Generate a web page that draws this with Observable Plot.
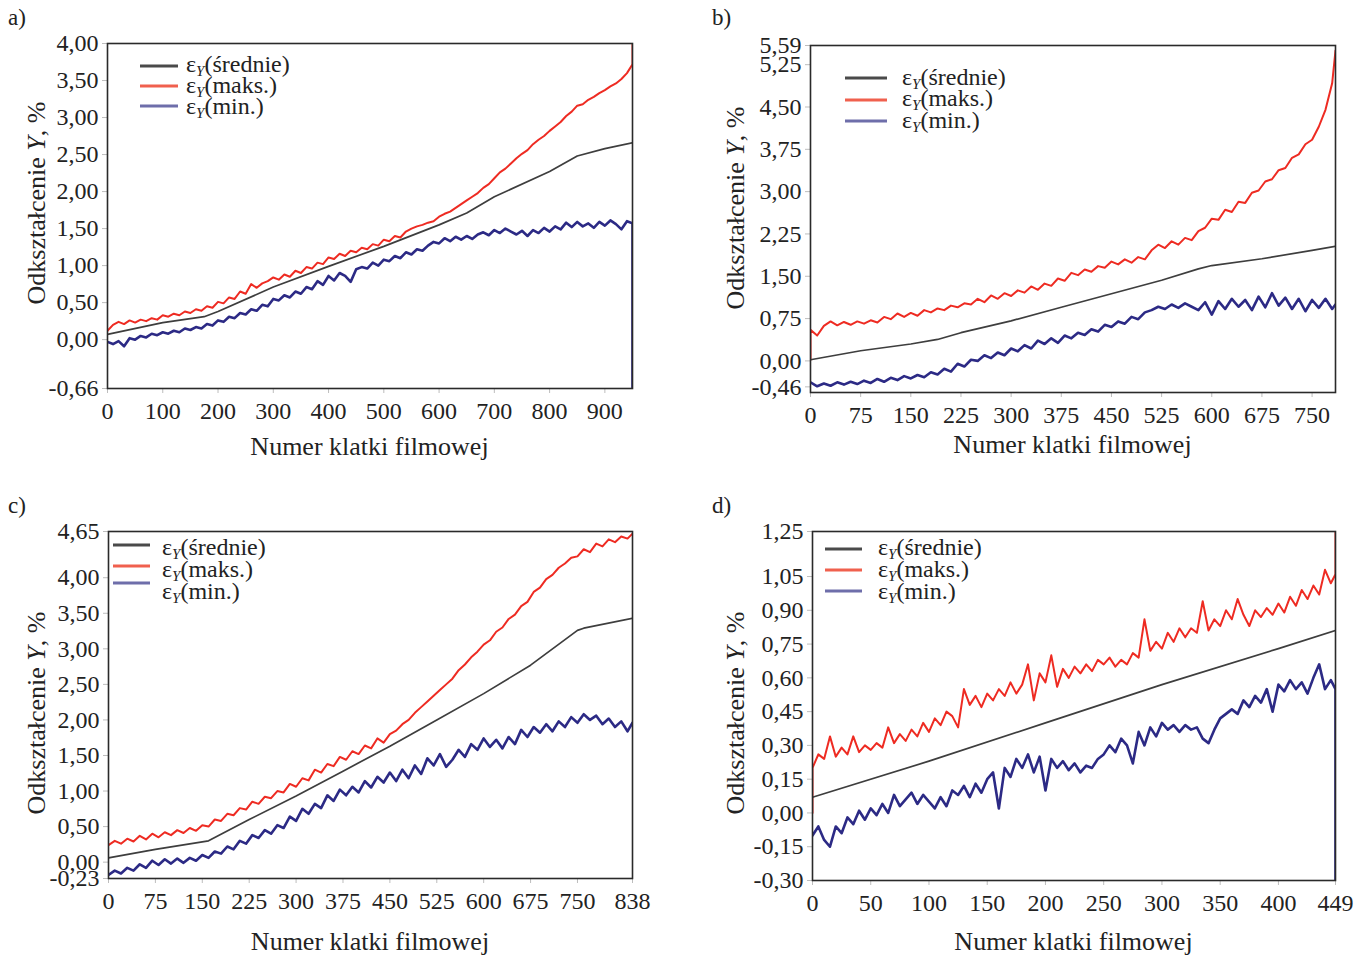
<!DOCTYPE html>
<html>
<head>
<meta charset="utf-8">
<script src="https://cdn.jsdelivr.net/npm/d3@7"></script>
<script src="https://cdn.jsdelivr.net/npm/@observablehq/plot@0.6"></script>
<style>
  html, body { margin: 0; padding: 0; background: #fff; }
  #page { position: relative; width: 1363px; height: 958px; overflow: hidden; background: #fff;
          font-family: "Liberation Serif", "DejaVu Serif", serif; color: #222; }
  .panel { position: absolute; }
  .letter { position: absolute; font-size: 23px; }
</style>
</head>
<body>
<div id="page"></div>
<script>
// ---------------- DATA ----------------
const legendLabels = ["(średnie)", "(maks.)", "(min.)"];
const panelLetters = ["a)", "b)", "c)", "d)"];
const xTitle = "Numer klatki filmowej";
const yTitleParts = ["Odkształcenie ", "Y", ", %"];

// Panel a
const aXMax = 950, aStep = 10;
const aXTicks = [0, 100, 200, 300, 400, 500, 600, 700, 800, 900];
const aYTicks = [-0.66, 0, 0.5, 1, 1.5, 2, 2.5, 3, 3.5, 4];
const aYDomain = [-0.66, 4.0];
const aMeanFrames = [0, 100, 175, 200, 300, 400, 500, 600, 650, 700, 800, 850, 900, 950];
const aMeanValues = [0.07, 0.23, 0.31, 0.38, 0.71, 0.99, 1.26, 1.55, 1.71, 1.93, 2.27, 2.48, 2.58, 2.66];
const aMaxValues = [0.12,0.20,0.24,0.21,0.26,0.23,0.27,0.25,0.29,0.27,0.33,0.31,0.35,0.33,0.38,0.36,0.41,0.39,0.45,0.43,
  0.51,0.49,0.57,0.55,0.65,0.62,0.75,0.70,0.76,0.79,0.84,0.81,0.88,0.85,0.93,0.90,0.98,0.96,1.04,1.02,
  1.11,1.09,1.16,1.13,1.20,1.18,1.24,1.22,1.29,1.27,1.35,1.33,1.40,1.38,1.46,1.50,1.53,1.55,1.58,1.60,
  1.66,1.70,1.73,1.78,1.83,1.88,1.93,1.98,2.05,2.10,2.18,2.26,2.31,2.38,2.45,2.51,2.56,2.64,2.70,2.75,
  2.82,2.88,2.94,3.02,3.08,3.16,3.18,3.24,3.28,3.33,3.37,3.42,3.46,3.52,3.60,3.72];
const aMaxEnd = 4.0;
const aMinValues = [-0.03,-0.06,-0.02,-0.09,0.02,0.00,0.05,0.03,0.08,0.06,0.10,0.08,0.12,0.10,0.15,0.13,0.17,0.15,0.21,0.19,
  0.26,0.24,0.31,0.29,0.36,0.34,0.41,0.39,0.47,0.45,0.55,0.53,0.60,0.57,0.65,0.62,0.71,0.68,0.79,0.74,
  0.86,0.80,0.90,0.86,0.78,0.95,0.98,0.96,1.04,1.00,1.08,1.06,1.13,1.10,1.18,1.15,1.22,1.20,1.27,1.32,
  1.30,1.37,1.33,1.39,1.35,1.40,1.36,1.42,1.45,1.41,1.48,1.44,1.50,1.46,1.42,1.47,1.40,1.48,1.44,1.51,
  1.46,1.53,1.49,1.58,1.52,1.59,1.53,1.57,1.51,1.59,1.54,1.61,1.56,1.49,1.60,1.57];
const aMinEnd = -0.66;

// Panel b
const bXMax = 785, bStep = 10;
const bXTicks = [0, 75, 150, 225, 300, 375, 450, 525, 600, 675, 750];
const bYTicks = [-0.46, 0, 0.75, 1.5, 2.25, 3, 3.75, 4.5, 5.25, 5.59];
const bYDomain = [-0.56, 5.59];
const bMeanFrames = [0, 75, 150, 190, 225, 300, 375, 450, 525, 580, 600, 675, 750, 785];
const bMeanValues = [0.02, 0.18, 0.30, 0.38, 0.50, 0.71, 0.95, 1.19, 1.43, 1.63, 1.69, 1.81, 1.96, 2.03];
const bMaxStart = 0.02;
const bMaxValues = [0.55,0.45,0.62,0.70,0.63,0.69,0.64,0.70,0.66,0.72,0.68,0.78,0.74,0.84,0.78,0.85,0.80,0.90,0.86,0.93,
  0.90,0.98,0.95,1.02,1.00,1.10,1.04,1.16,1.10,1.20,1.15,1.25,1.21,1.32,1.26,1.37,1.33,1.46,1.42,1.56,
  1.52,1.62,1.58,1.68,1.65,1.76,1.71,1.80,1.74,1.84,1.80,1.96,2.06,2.00,2.12,2.06,2.18,2.14,2.30,2.36,
  2.52,2.50,2.68,2.64,2.82,2.80,2.98,3.02,3.18,3.22,3.38,3.42,3.60,3.66,3.84,3.92,4.15,4.45,4.92,5.50];
const bMinValues = [-0.38,-0.45,-0.40,-0.44,-0.38,-0.42,-0.37,-0.41,-0.35,-0.39,-0.32,-0.37,-0.30,-0.34,-0.27,-0.31,-0.25,-0.29,-0.20,-0.24,
  -0.14,-0.19,-0.05,-0.10,0.02,0.00,0.10,0.05,0.15,0.10,0.22,0.17,0.28,0.22,0.36,0.30,0.40,0.32,0.45,0.40,
  0.50,0.46,0.56,0.52,0.64,0.60,0.70,0.66,0.78,0.74,0.86,0.90,0.96,0.92,1.00,0.94,1.02,0.96,0.90,1.04,
  0.82,1.06,0.92,1.10,0.96,1.08,0.90,1.14,0.95,1.20,0.98,1.12,0.92,1.10,0.88,1.08,0.94,1.10,0.92,1.00];

// Panel c
const cXMax = 838, cStep = 10;
const cXTicks = [0, 75, 150, 225, 300, 375, 450, 525, 600, 675, 750, 838];
const cYTicks = [-0.23, 0, 0.5, 1, 1.5, 2, 2.5, 3, 3.5, 4, 4.65];
const cYDomain = [-0.23, 4.65];
const cMeanFrames = [0, 75, 160, 225, 300, 375, 450, 525, 600, 675, 750, 760, 838];
const cMeanValues = [0.06, 0.18, 0.30, 0.60, 0.93, 1.28, 1.63, 2.00, 2.37, 2.77, 3.26, 3.29, 3.43];
const cMaxValues = [0.24,0.30,0.26,0.33,0.29,0.37,0.32,0.40,0.35,0.42,0.38,0.45,0.41,0.48,0.44,0.52,0.50,0.60,0.58,0.68,
  0.66,0.76,0.74,0.85,0.82,0.92,0.90,1.00,0.98,1.10,1.06,1.18,1.15,1.30,1.26,1.38,1.35,1.48,1.44,1.56,
  1.52,1.64,1.60,1.74,1.68,1.80,1.85,1.94,2.00,2.10,2.18,2.26,2.34,2.42,2.50,2.58,2.70,2.78,2.88,2.96,
  3.06,3.12,3.24,3.30,3.42,3.48,3.60,3.66,3.80,3.86,3.98,4.04,4.14,4.20,4.28,4.30,4.40,4.36,4.48,4.44,
  4.54,4.50,4.58,4.55,4.62];
const cMinValues = [-0.18,-0.12,-0.16,-0.08,-0.12,-0.03,-0.08,0.02,-0.04,0.04,-0.02,0.05,-0.01,0.06,0.02,0.10,0.06,0.15,0.12,0.22,
  0.18,0.30,0.26,0.38,0.34,0.45,0.40,0.52,0.48,0.64,0.58,0.75,0.68,0.82,0.76,0.94,0.86,1.02,0.94,1.06,
  0.98,1.14,1.05,1.20,1.12,1.26,1.14,1.30,1.18,1.36,1.24,1.46,1.36,1.52,1.34,1.44,1.58,1.48,1.66,1.58,
  1.74,1.62,1.72,1.60,1.76,1.66,1.86,1.76,1.90,1.82,1.94,1.84,1.98,1.90,2.04,1.96,2.08,2.00,2.06,1.94,
  2.02,1.90,1.98,1.84,1.96];

// Panel d
const dXMax = 449, dStep = 5;
const dXTicks = [0, 50, 100, 150, 200, 250, 300, 350, 400, 449];
const dYTicks = [-0.30, -0.15, 0, 0.15, 0.30, 0.45, 0.60, 0.75, 0.90, 1.05, 1.25];
const dYDomain = [-0.30, 1.25];
const dMeanFrames = [0, 100, 200, 300, 400, 449];
const dMeanValues = [0.07, 0.23, 0.40, 0.57, 0.73, 0.81];
const dMaxStart = 0.0;
const dMaxValues = [0.20,0.26,0.24,0.34,0.25,0.29,0.26,0.34,0.27,0.30,0.28,0.31,0.29,0.38,0.31,0.35,0.32,0.37,0.34,0.40,
  0.36,0.42,0.39,0.45,0.43,0.38,0.55,0.48,0.52,0.47,0.53,0.50,0.55,0.52,0.58,0.53,0.57,0.66,0.50,0.62,
  0.58,0.70,0.56,0.64,0.60,0.65,0.62,0.66,0.63,0.68,0.66,0.69,0.65,0.68,0.66,0.71,0.69,0.86,0.72,0.76,
  0.73,0.80,0.76,0.82,0.78,0.82,0.80,0.94,0.81,0.86,0.83,0.90,0.86,0.95,0.88,0.83,0.90,0.87,0.91,0.88,
  0.93,0.89,0.96,0.92,0.99,0.95,1.01,0.97,1.08,1.02,1.06];
const dMaxEnd = 1.25;
const dMinValues = [-0.10,-0.06,-0.12,-0.15,-0.06,-0.09,-0.02,-0.05,0.01,-0.03,0.02,-0.01,0.04,0.00,0.08,0.03,0.06,0.09,0.04,0.08,
  0.05,0.02,0.07,0.03,0.10,0.08,0.12,0.07,0.13,0.09,0.15,0.18,0.02,0.20,0.16,0.24,0.20,0.26,0.18,0.25,
  0.10,0.24,0.20,0.23,0.19,0.22,0.18,0.21,0.20,0.24,0.26,0.30,0.27,0.33,0.30,0.22,0.36,0.30,0.38,0.34,
  0.40,0.37,0.39,0.36,0.39,0.37,0.38,0.33,0.31,0.37,0.42,0.44,0.46,0.44,0.50,0.47,0.52,0.49,0.55,0.45,
  0.57,0.54,0.59,0.55,0.58,0.53,0.60,0.66,0.55,0.59,0.55];
const dMinEnd = -0.30;

// ---------------- HELPERS ----------------
const fmt2 = d => d.toFixed(2).replace(".", ",");
function stepSeries(values, step, xMax, start, end) {
  const out = [];
  if (start !== undefined) out.push({x: 0, y: start});
  values.forEach((v, i) => out.push({x: Math.min(i * step, xMax), y: v}));
  if (end !== undefined) out.push({x: xMax, y: end});
  return out;
}
function framed(frames, values) { return frames.map((f, i) => ({x: f, y: values[i]})); }

const COLORS = {mean: "#3e3e3e", max: "#ee2b22", min: "#2c2a85"};
const LEGEND_COLORS = ["#4a4a4a", "#f0604e", "#6e6eaa"];
const TICK_FONT = 24, TITLE_FONT = 26, LEGEND_FONT = 24;

const page = d3.select("#page");

function drawPanel(cfg) {
  const svg = Plot.plot({
    width: cfg.w, height: cfg.h,
    marginLeft: cfg.ml, marginRight: cfg.mr, marginTop: cfg.mt, marginBottom: cfg.mb,
    style: {fontFamily: "'Liberation Serif', serif", fontSize: TICK_FONT + "px", color: "#222", background: "transparent", overflow: "visible"},
    x: {domain: [0, cfg.xMax]},
    y: {domain: cfg.yDomain},
    marks: [
      Plot.axisX({ticks: cfg.xTicks, tickFormat: d => String(d), tickSize: 5, tickPadding: 8, stroke: "#bdbdbd", fill: "#222", fontSize: TICK_FONT, label: null}),
      Plot.axisY({ticks: cfg.yTicks, tickFormat: fmt2, tickSize: 5, tickPadding: 4, stroke: "#bdbdbd", fill: "#222", fontSize: TICK_FONT, label: null}),
      Plot.line(cfg.min, {x: "x", y: "y", stroke: COLORS.min, strokeWidth: 2.6, clip: true}),
      Plot.line(cfg.max, {x: "x", y: "y", stroke: COLORS.max, strokeWidth: 2, clip: true}),
      Plot.line(cfg.mean, {x: "x", y: "y", stroke: COLORS.mean, strokeWidth: 1.7, clip: true}),
      Plot.frame({stroke: "#2a2a2a", strokeWidth: 1.6})
    ]
  });
  const div = page.append("div").attr("class", "panel").style("left", cfg.left + "px").style("top", cfg.top + "px");
  div.node().appendChild(svg);
  const s = d3.select(svg);
  const fx = cfg.ml + (cfg.w - cfg.ml - cfg.mr) / 2;
  // x title
  s.append("text").attr("x", fx).attr("y", cfg.xTitleY).attr("text-anchor", "middle")
    .attr("font-size", TITLE_FONT).attr("fill", "#222").text(xTitle);
  // y title
  const yt = s.append("text").attr("transform", `translate(${cfg.yTitleX},${cfg.yTitleCY}) rotate(-90)`)
    .attr("text-anchor", "middle").attr("font-size", TITLE_FONT).attr("fill", "#222");
  yt.append("tspan").text(yTitleParts[0]);
  yt.append("tspan").attr("font-style", "italic").text(yTitleParts[1]);
  yt.append("tspan").text(yTitleParts[2]);
  // legend
  cfg.legend.lineY.forEach((ly, i) => {
    s.append("line").attr("x1", cfg.legend.x1).attr("x2", cfg.legend.x2).attr("y1", ly).attr("y2", ly)
      .attr("stroke", LEGEND_COLORS[i]).attr("stroke-width", 3);
    const t = s.append("text").attr("x", cfg.legend.tx).attr("y", cfg.legend.textY[i])
      .attr("text-anchor", "start").attr("font-size", LEGEND_FONT).attr("fill", "#222");
    t.append("tspan").text("ε");
    t.append("tspan").attr("font-style", "italic").attr("font-size", 15).attr("dy", 4).text("Y");
    t.append("tspan").attr("dy", -4).text(legendLabels[i]);
  });
  page.append("div").attr("class", "letter").style("left", cfg.letterX + "px").style("top", cfg.letterY + "px").text(cfg.letter);
}

drawPanel({
  letter: panelLetters[0], letterX: 8, letterY: 5,
  left: 0, top: 0, w: 680, h: 470, ml: 107, mr: 48, mt: 43, mb: 82,
  xMax: aXMax, yDomain: aYDomain, xTicks: aXTicks, yTicks: aYTicks,
  mean: framed(aMeanFrames, aMeanValues),
  max: stepSeries(aMaxValues, aStep, aXMax, undefined, aMaxEnd),
  min: stepSeries(aMinValues, aStep, aXMax, undefined, aMinEnd),
  xTitleY: 455, yTitleX: 45, yTitleCY: 203,
  legend: {x1: 140, x2: 178, tx: 186, lineY: [66, 86, 106], textY: [72, 93, 114]}
});
drawPanel({
  letter: panelLetters[1], letterX: 712, letterY: 5,
  left: 680, top: 0, w: 683, h: 470, ml: 130, mr: 28, mt: 45, mb: 78,
  xMax: bXMax, yDomain: bYDomain, xTicks: bXTicks, yTicks: bYTicks,
  mean: framed(bMeanFrames, bMeanValues),
  max: stepSeries(bMaxValues, bStep, bXMax, bMaxStart, undefined),
  min: stepSeries(bMinValues, bStep, bXMax),
  xTitleY: 453, yTitleX: 64, yTitleCY: 208,
  legend: {x1: 165, x2: 207, tx: 222, lineY: [78, 100, 121], textY: [85, 106, 128]}
});
drawPanel({
  letter: panelLetters[2], letterX: 8, letterY: 493,
  left: 0, top: 480, w: 680, h: 478, ml: 108, mr: 48, mt: 51, mb: 80,
  xMax: cXMax, yDomain: cYDomain, xTicks: cXTicks, yTicks: cYTicks,
  mean: framed(cMeanFrames, cMeanValues),
  max: stepSeries(cMaxValues, cStep, cXMax),
  min: stepSeries(cMinValues, cStep, cXMax),
  xTitleY: 470, yTitleX: 45, yTitleCY: 233,
  legend: {x1: 113, x2: 150, tx: 162, lineY: [65, 86, 103], textY: [75, 97, 119]}
});
drawPanel({
  letter: panelLetters[3], letterX: 712, letterY: 493,
  left: 680, top: 480, w: 683, h: 478, ml: 132, mr: 28, mt: 51, mb: 78,
  xMax: dXMax, yDomain: dYDomain, xTicks: dXTicks, yTicks: dYTicks,
  mean: framed(dMeanFrames, dMeanValues),
  max: stepSeries(dMaxValues, dStep, dXMax, dMaxStart, dMaxEnd),
  min: stepSeries(dMinValues, dStep, dXMax, undefined, dMinEnd),
  xTitleY: 470, yTitleX: 64, yTitleCY: 233,
  legend: {x1: 145, x2: 182, tx: 198, lineY: [69, 90, 111], textY: [75, 97, 119]}
});
</script>
</body>
</html>
